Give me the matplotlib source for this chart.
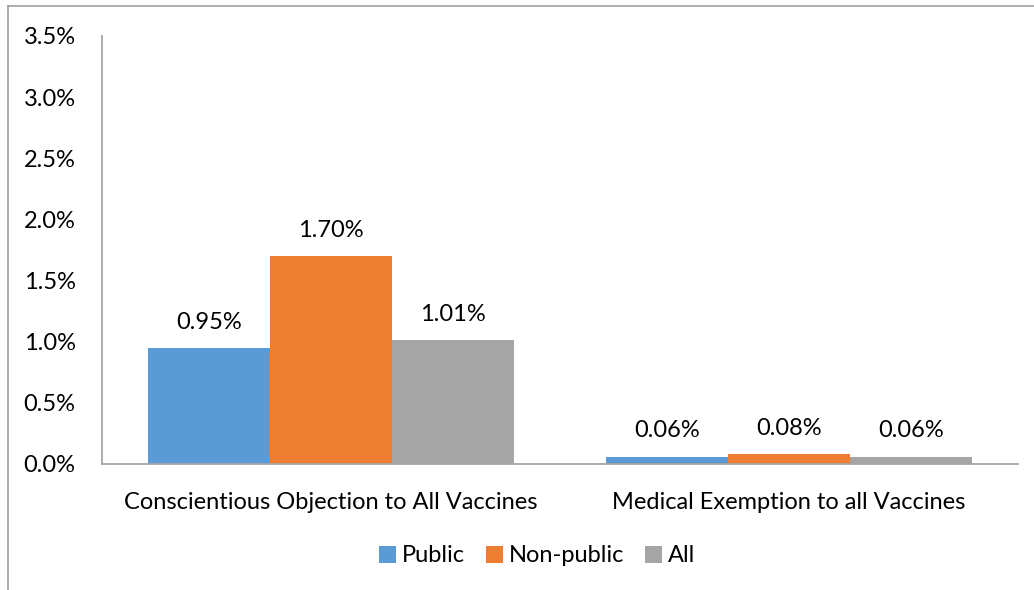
import numpy as np
import matplotlib
matplotlib.use("Agg")
import matplotlib.pyplot as plt
from matplotlib.lines import Line2D
from matplotlib.ticker import FuncFormatter

categories = ["Conscientious Objection to All Vaccines", "Medical Exemption to all Vaccines"]
series_names = ["Public", "Non-public", "All"]
public = [0.0095, 0.0006]
non_public = [0.0170, 0.0008]
all_schools = [0.0101, 0.0006]
yticks = [0.0, 0.005, 0.010, 0.015, 0.020, 0.025, 0.030, 0.035]

colors = ["#5B9BD5", "#ED7D31", "#A5A5A5"]

plt.rcParams["font.family"] = ["Lato", "DejaVu Sans"]
FS = 17

W, H = 1034, 590
fig = plt.figure(figsize=(W / 100, H / 100), dpi=100)
ax = fig.add_axes([102 / W, 1 - 464 / H, (1018 - 102) / W, (464 - 36) / H])

x = np.arange(len(categories))
bar_w = 0.8 / 3
for i, (name, vals) in enumerate(zip(series_names, [public, non_public, all_schools])):
    pos = x + (i - 1) * bar_w
    bars = ax.bar(pos, vals, width=bar_w, color=colors[i], label=name, zorder=2)
    for b, v in zip(bars, vals):
        ax.annotate(f"{v * 100:.2f}%", (b.get_x() + b.get_width() / 2, v),
                    xytext=(0, 11), textcoords="offset points",
                    ha="center", va="bottom", fontsize=FS, color="#000000")

ax.set_xlim(-0.5, 1.5)
ax.set_ylim(0, 0.035)
ax.set_yticks(yticks)
ax.yaxis.set_major_formatter(FuncFormatter(lambda v, _: f"{v * 100:.1f}%"))
ax.set_xticks(x)
ax.set_xticklabels(categories)
ax.tick_params(axis="both", length=0, labelsize=FS, colors="#000000")
ax.tick_params(axis="y", pad=19)
ax.tick_params(axis="x", pad=20)

for s in ["top", "right"]:
    ax.spines[s].set_visible(False)
for s in ["left", "bottom"]:
    ax.spines[s].set_color("#A6A6A6")
    ax.spines[s].set_linewidth(1.3)

leg = fig.legend(loc="center", bbox_to_anchor=(537 / W, 1 - 556 / H), ncol=3,
                 frameon=False, fontsize=FS, handlelength=0.7, handleheight=0.7,
                 handletextpad=0.25, columnspacing=0.9)

# chart area border (only left and top edges visible in the crop)
fig.add_artist(Line2D([8 / W, 8 / W], [0, 1 - 6 / H], transform=fig.transFigure,
                      color="#A0A0A0", linewidth=1.2))
fig.add_artist(Line2D([8 / W, 1], [1 - 6 / H, 1 - 6 / H], transform=fig.transFigure,
                      color="#A0A0A0", linewidth=1.2))

fig.savefig("out.png", dpi=100)
